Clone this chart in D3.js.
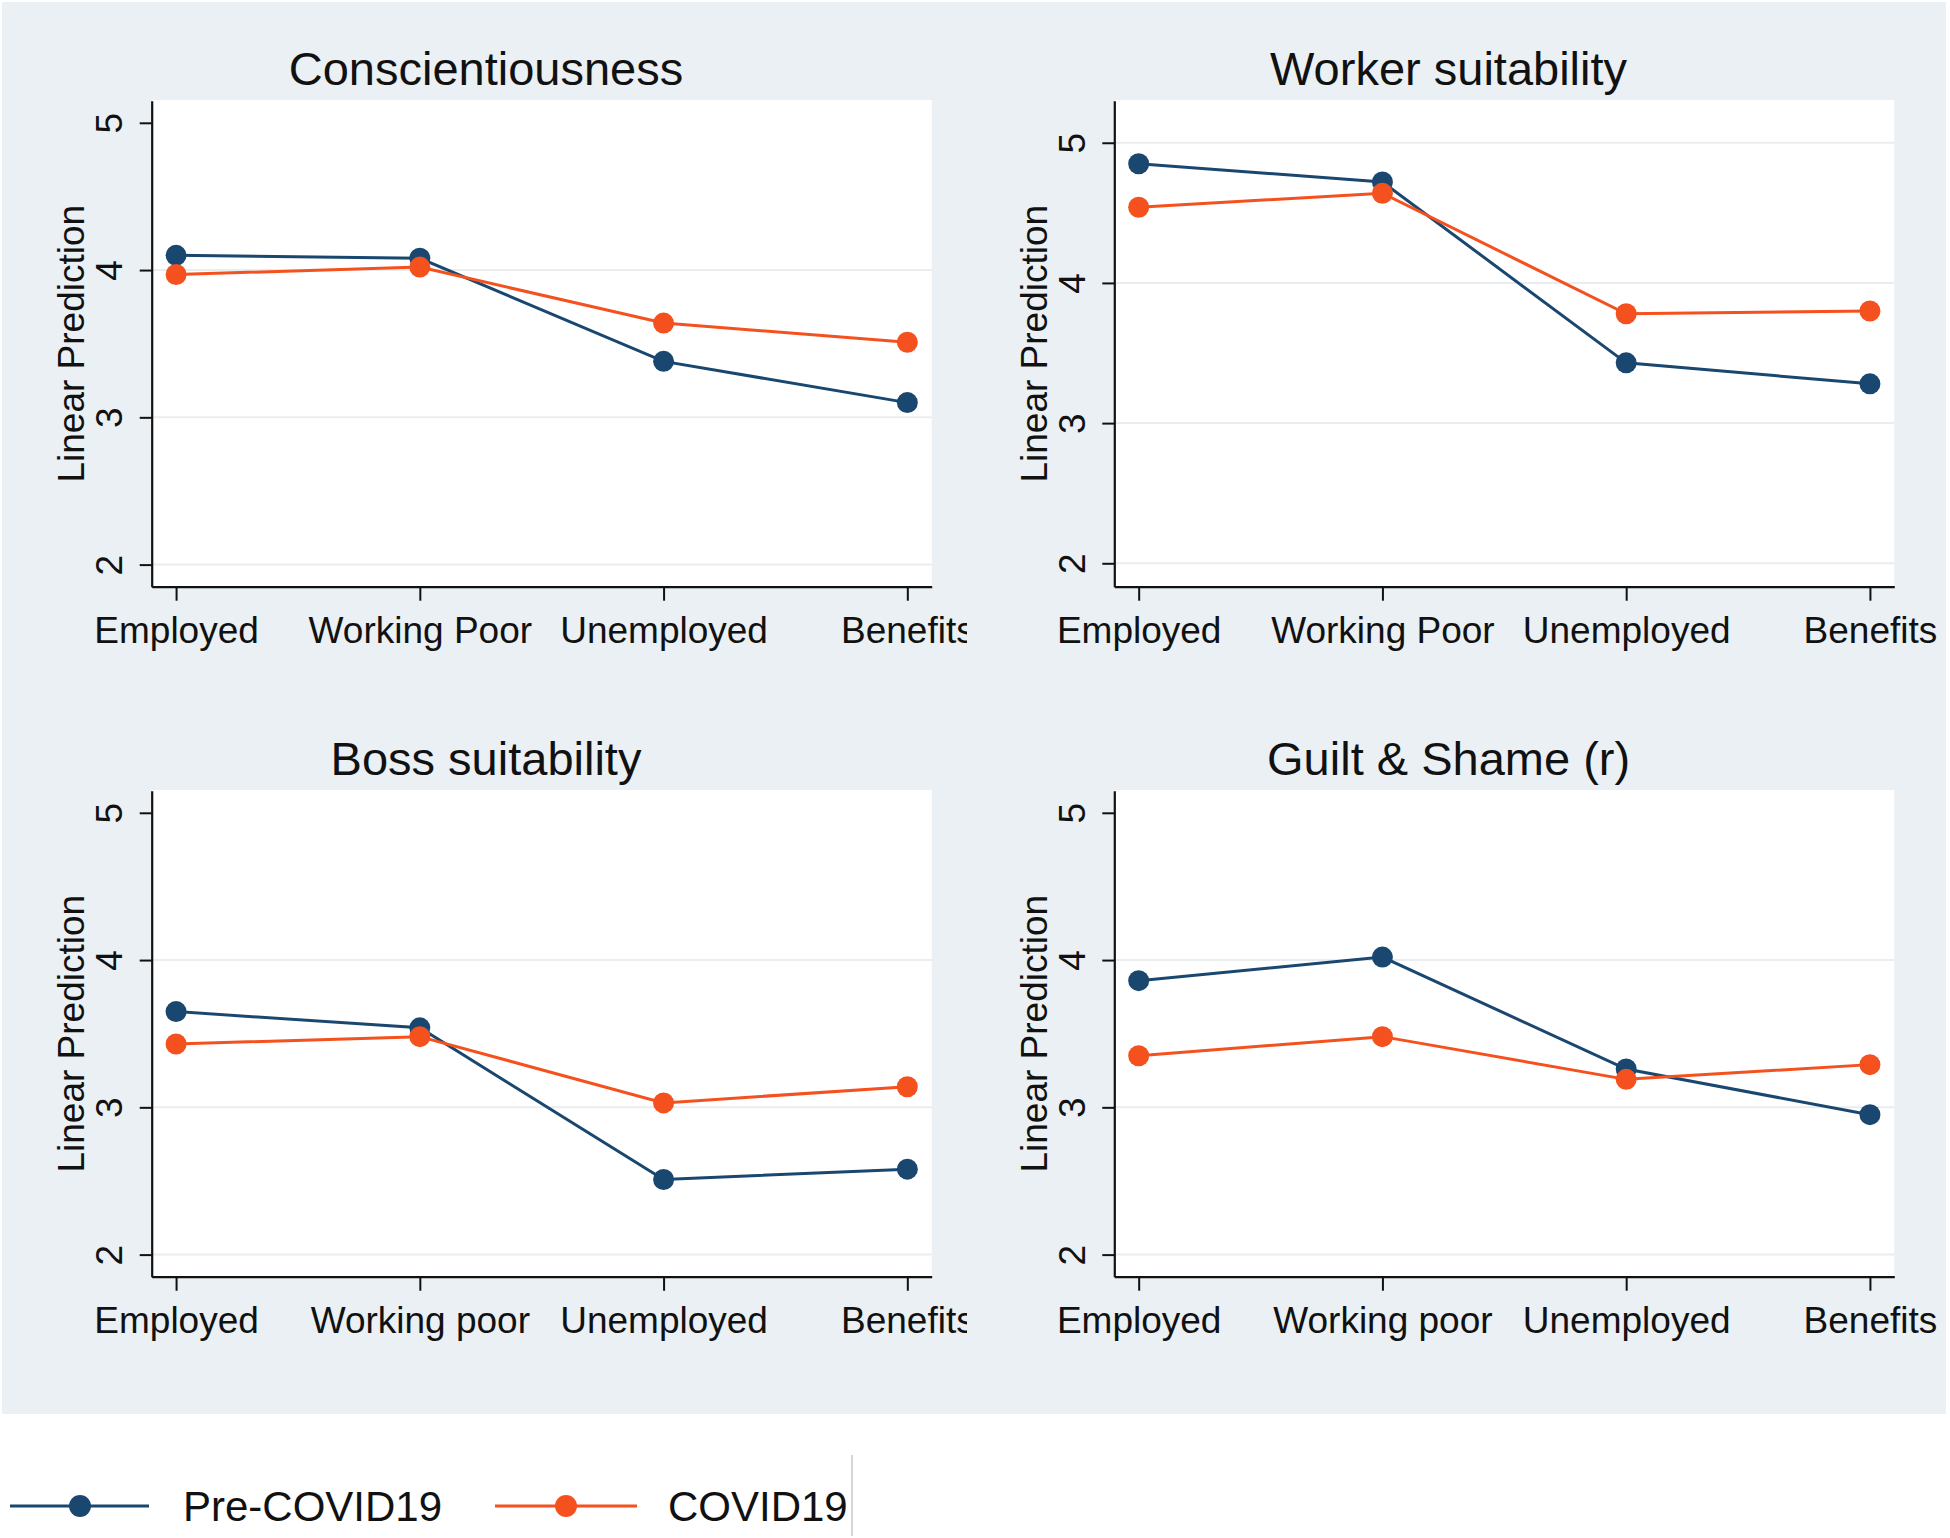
<!DOCTYPE html>
<html><head><meta charset="utf-8">
<script src="https://cdn.jsdelivr.net/npm/d3@7"></script>
<style>body{margin:0;background:#fff}svg{display:block}</style>
</head><body><svg id="chart" width="1950" height="1538"></svg>
<script>
// ---------- data ----------
const categoriesTop = ["Employed", "Working Poor", "Unemployed", "Benefits"];
const categoriesBottom = ["Employed", "Working poor", "Unemployed", "Benefits"];
const panelTitles = ["Conscientiousness", "Worker suitability", "Boss suitability", "Guilt & Shame (r)"];
const seriesNames = ["Pre-COVID19", "COVID19"];
const yTickValues = [2, 3, 4, 5];
const yAxisTitle = "Linear Prediction";

const consPre = [4.10, 4.08, 3.38, 3.10];
const consCovid = [3.97, 4.02, 3.64, 3.51];
const workerPre = [4.85, 4.72, 3.43, 3.28];
const workerCovid = [4.54, 4.64, 3.78, 3.80];
const bossPre = [3.65, 3.54, 2.51, 2.58];
const bossCovid = [3.43, 3.48, 3.03, 3.14];
const guiltPre = [3.86, 4.02, 3.26, 2.95];
const guiltCovid = [3.35, 3.48, 3.19, 3.29];

const yDomains = [[1.85, 5.15], [1.833, 5.30], [1.85, 5.15], [1.85, 5.15]];

// ---------- styling / layout ----------
const colors = ["#1a476f", "#f4511e"];
const font = "'Liberation Sans', Arial, sans-serif";
const textColor = "#111";
const panels = [
  {title: panelTitles[0], cats: categoriesTop, series: [consPre, consCovid], col: 0, row: 0},
  {title: panelTitles[1], cats: categoriesTop, series: [workerPre, workerCovid], col: 1, row: 0},
  {title: panelTitles[2], cats: categoriesBottom, series: [bossPre, bossCovid], col: 0, row: 1},
  {title: panelTitles[3], cats: categoriesBottom, series: [guiltPre, guiltCovid], col: 1, row: 1}
];

const svg = d3.select("#chart");
svg.append("rect").attr("x", 0).attr("y", 0).attr("width", 1950).attr("height", 1538).attr("fill", "#fff");
svg.append("rect").attr("x", 2).attr("y", 2).attr("width", 1944).attr("height", 1412).attr("fill", "#eaf0f3");

const defs = svg.append("defs");
defs.append("clipPath").attr("id", "leftclip")
  .append("rect").attr("x", -1000).attr("y", -200).attr("width", 1967).attr("height", 400);

panels.forEach((p, i) => {
  const ox = p.col * 962.6, oy = p.row * 690;
  const L = 151.7 + ox, R = 931.7 + ox, T = 100.7 + oy, B = 586.7 + oy;
  const g = svg.append("g");

  g.append("rect").attr("x", L).attr("y", T - 0.7).attr("width", R - L).attr("height", B - T + 0.7).attr("fill", "#fff");

  const x = d3.scalePoint().domain(p.cats).range([L, R]).padding(0.1);
  const y = d3.scaleLinear().domain(yDomains[i]).range([B, T]);

  // gridlines (omitted when hugging the top of the plot region)
  g.append("g").selectAll("line").data(yTickValues.filter(d => y(d) - T > 30)).join("line")
    .attr("x1", L + 1).attr("x2", R)
    .attr("y1", d => y(d)).attr("y2", d => y(d))
    .attr("stroke", "#eaedee").attr("stroke-width", 2);

  // title
  g.append("text").attr("x", 486 + ox).attr("y", 84.5 + oy)
    .attr("text-anchor", "middle").attr("font-family", font).attr("font-size", 47)
    .attr("fill", textColor).text(p.title);

  // y axis
  const ya = g.append("g").attr("transform", `translate(${L},0)`)
    .call(d3.axisLeft(y).tickValues(yTickValues).tickSize(12).tickSizeOuter(0).tickFormat(d3.format("d")));
  ya.select(".domain").attr("stroke", "#111").attr("stroke-width", 2.2);
  ya.selectAll(".tick line").attr("stroke", "#111").attr("stroke-width", 2);
  ya.selectAll(".tick text")
    .attr("transform", "rotate(-90)").attr("x", 0).attr("y", -29.5).attr("dy", 0)
    .attr("text-anchor", "middle").attr("font-family", font).attr("font-size", 37).attr("fill", textColor);

  // y axis title
  g.append("text").attr("transform", `translate(${84 + ox},${(T + B) / 2}) rotate(-90)`)
    .attr("text-anchor", "middle").attr("font-family", font).attr("font-size", 37)
    .attr("fill", textColor).text(yAxisTitle);

  // x axis
  const xa = g.append("g").attr("transform", `translate(0,${B})`)
    .call(d3.axisBottom(x).tickSize(14).tickSizeOuter(0));
  if (p.col === 0) xa.attr("clip-path", "url(#leftclip)");
  xa.select(".domain").attr("stroke", "#111").attr("stroke-width", 2.2);
  xa.selectAll(".tick line").attr("stroke", "#111").attr("stroke-width", 2);
  xa.selectAll(".tick text").attr("y", 56.6).attr("dy", 0)
    .attr("font-family", font).attr("font-size", 37).attr("fill", textColor);

  // series
  p.series.forEach((vals, s) => {
    const pts = p.cats.map((c, k) => [x(c), y(vals[k])]);
    g.append("path").attr("d", d3.line()(pts)).attr("fill", "none")
      .attr("stroke", colors[s]).attr("stroke-width", 3);
    g.append("g").selectAll("circle").data(pts).join("circle")
      .attr("cx", d => d[0]).attr("cy", d => d[1]).attr("r", 10.5).attr("fill", colors[s]);
  });
});

// legend
const lg = svg.append("g");
const legendItems = [
  {x1: 10, x2: 149, mx: 80, tx: 183},
  {x1: 495, x2: 637, mx: 566, tx: 668}
];
legendItems.forEach((it, s) => {
  lg.append("line").attr("x1", it.x1).attr("x2", it.x2).attr("y1", 1506).attr("y2", 1506)
    .attr("stroke", colors[s]).attr("stroke-width", 3);
  lg.append("circle").attr("cx", it.mx).attr("cy", 1506).attr("r", 11).attr("fill", colors[s]);
  lg.append("text").attr("x", it.tx).attr("y", 1521).attr("font-family", font).attr("font-size", 42)
    .attr("fill", textColor).text(seriesNames[s]);
});
lg.append("line").attr("x1", 852).attr("x2", 852).attr("y1", 1455).attr("y2", 1536)
  .attr("stroke", "#c8c8c8").attr("stroke-width", 1.5);
</script></body></html>
